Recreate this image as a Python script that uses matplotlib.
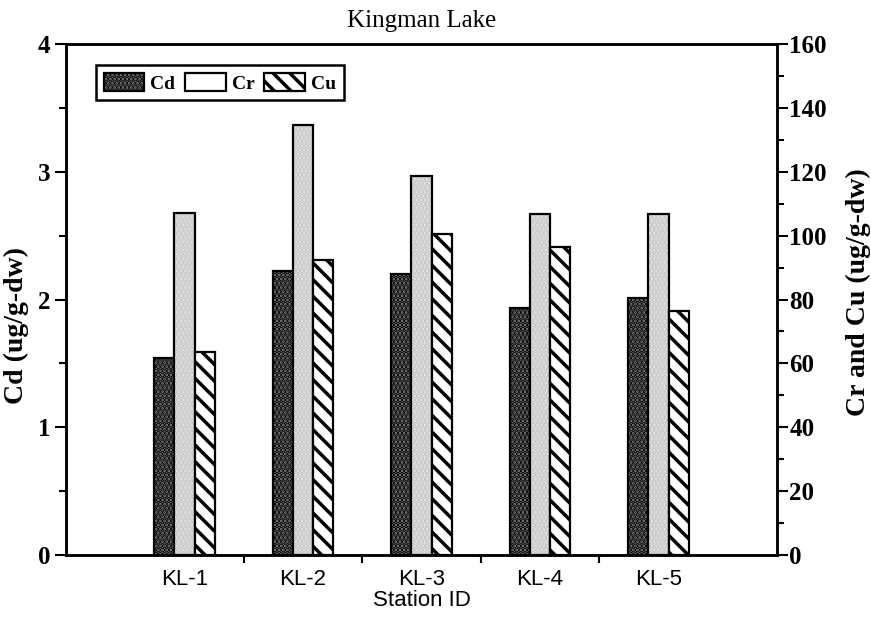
import matplotlib.pyplot as plt
import numpy as np

plt.rcParams['font.family'] = ['Liberation Serif', 'DejaVu Serif']
plt.rcParams['hatch.linewidth'] = 2.5

stations = ['KL-1', 'KL-2', 'KL-3', 'KL-4', 'KL-5']
cd = [1.54, 2.22, 2.20, 1.93, 2.01]
cr = [107, 134.6, 118.8, 106.7, 106.7]
cu = [63.7, 92.4, 100.5, 96.5, 76.4]

x = np.arange(1, len(stations) + 1)
w = 0.17
sans = ['Liberation Sans', 'DejaVu Sans']

fig = plt.figure(figsize=(8.71, 6.19), dpi=100)
ax = fig.add_axes([0.0758, 0.1034, 0.8162, 0.8255])
ax2 = ax.twinx()

# Cd 在左轴, Cr/Cu 在右轴
b1 = ax.bar(x - w, cd, w, facecolor='#858585', edgecolor='black', hatch='....', linewidth=1.6)
ax2.bar(x, cr, w, facecolor='#e8e8e8', edgecolor='#c4c4c4', hatch='....', linewidth=0)
b2 = ax2.bar(x, cr, w, facecolor='none', edgecolor='black', linewidth=1.6)
b3 = ax2.bar(x + w, cu, w, facecolor='white', edgecolor='black', hatch='\\\\', linewidth=1.6)

ax.set_xlim(0, 6)
ax.set_ylim(0, 4)
ax2.set_ylim(0, 160)

ax.set_xticks(x)
ax.set_xticklabels(stations, fontsize=16, family=sans)
ax.tick_params(axis='x', length=0, pad=10)
ax.set_xticks([1.5, 2.5, 3.5, 4.5], minor=True)
ax.tick_params(axis='x', which='minor', length=6, width=1.5, direction='out')

ax.set_yticks([0, 1, 2, 3, 4])
ax.set_yticks(np.arange(0, 4.01, 0.5), minor=True)
ax.tick_params(axis='y', which='major', length=8, width=1.5, labelsize=18, pad=3)
ax.tick_params(axis='y', which='minor', length=5, width=1.5)
for t in ax.get_yticklabels():
    t.set_fontweight('bold')

ax2.set_yticks(np.arange(0, 161, 20))
ax2.set_yticks(np.arange(0, 161, 10), minor=True)
ax2.tick_params(axis='y', which='major', length=8, width=1.5, labelsize=18, pad=1)
ax2.tick_params(axis='y', which='minor', length=5, width=1.5)
for t in ax2.get_yticklabels():
    t.set_fontweight('bold')

for a in (ax, ax2):
    for s in a.spines.values():
        s.set_linewidth(1.8)

ax.set_ylabel('Cd (ug/g-dw)', fontsize=20, fontweight='bold')
ax.yaxis.set_label_coords(-0.052, 0.45)
ax2.set_ylabel('Cr and Cu (ug/g-dw)', fontsize=20, fontweight='bold')
ax2.yaxis.set_label_coords(1.097, 0.515)
ax.set_xlabel('Station ID', fontsize=16, family=sans, labelpad=0)
ax.set_title('Kingman Lake', fontsize=18, pad=12)

leg = ax.legend([b1, b2, b3], ['Cd', 'Cr', 'Cu'], loc='upper left', ncol=3,
                bbox_to_anchor=(0.042, 0.959), borderaxespad=0, fancybox=False,
                framealpha=1, edgecolor='black', handlelength=2.1, handleheight=1.1,
                columnspacing=0.5, handletextpad=0.3, borderpad=0.4,
                prop={'size': 14, 'weight': 'bold'})
leg.get_frame().set_linewidth(1.8)

fig.savefig('out.png', dpi=100)
